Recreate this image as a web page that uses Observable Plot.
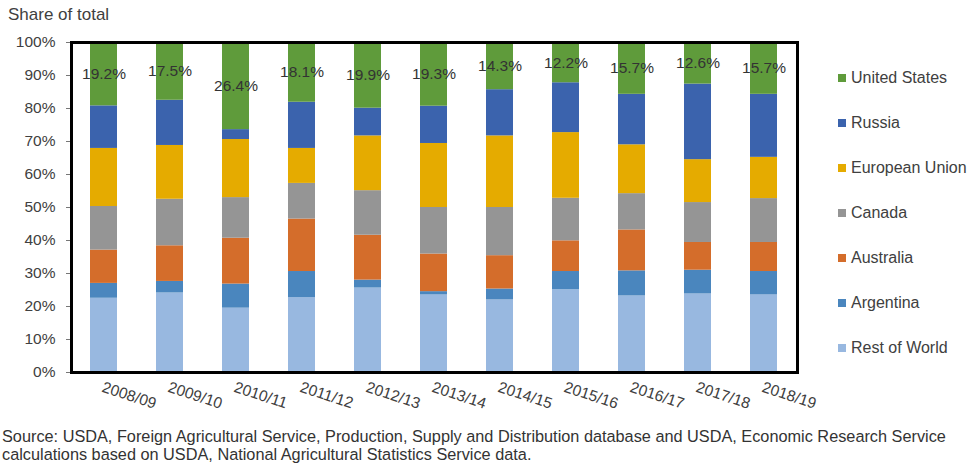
<!DOCTYPE html>
<html>
<head>
<meta charset="utf-8">
<script src="https://cdn.jsdelivr.net/npm/d3@7"></script>
<script src="https://cdn.jsdelivr.net/npm/@observablehq/plot@0.6"></script>
<style>
  html, body { margin: 0; padding: 0; background: #fff; }
  #wrap { position: relative; width: 973px; height: 465px; font-family: "Liberation Sans", Arial, sans-serif; color: #404040; overflow: hidden; }
  #wrap svg { position: absolute; left: 0; top: 0; }
  .title { position: absolute; left: 8px; top: 5px; font-size: 17px; color: #404040; white-space: nowrap; }
  .legend { position: absolute; left: 838px; top: 0; }
  .legend .item { position: absolute; left: 0; white-space: nowrap; font-size: 16px; color: #404040; line-height: 18px; }
  .legend .sw { display: inline-block; width: 8px; height: 8px; margin-right: 5px; vertical-align: 1px; }
  .caption { position: absolute; left: 2px; top: 427px; font-size: 16.3px; line-height: 18px; color: #333; white-space: nowrap; }
</style>
</head>
<body>
<div id="wrap"></div>
<script>
// ---- data ----
const seasons = ["2008/09","2009/10","2010/11","2011/12","2012/13","2013/14","2014/15","2015/16","2016/17","2017/18","2018/19"];
const countries = ["Rest of World","Argentina","Australia","Canada","European Union","Russia","United States"];
const colors = ["#98B8E0","#4A86BE","#D46D2B","#959595","#E5AB00","#3B63AD","#5F9B3B"];
const restOfWorld   = [22.5, 24.1, 19.5, 22.7, 25.6, 23.5, 22.0, 25.1, 23.2, 23.8, 23.5];
const argentina     = [ 4.5,  3.5,  7.3,  7.9,  2.4,  1.0,  3.3,  5.5,  7.6,  7.2,  7.1];
const australia     = [10.1, 10.8, 13.9, 15.9, 13.6, 11.4, 10.1,  9.3, 12.4,  8.4,  8.8];
const canada        = [13.2, 14.1, 12.3, 10.8, 13.5, 14.1, 14.6, 12.9, 11.0, 12.1, 13.3];
const europeanUnion = [17.6, 16.3, 17.6, 10.6, 16.6, 19.4, 21.7, 19.9, 14.8, 13.0, 12.5];
const russia        = [12.9, 13.7,  3.0, 14.0,  8.4, 11.3, 14.0, 15.1, 15.3, 22.9, 19.1];
const unitedStates  = [19.2, 17.5, 26.4, 18.1, 19.9, 19.3, 14.3, 12.2, 15.7, 12.6, 15.7];
const yTicks = [0,10,20,30,40,50,60,70,80,90,100];
const titleText = "Share of total";
const captionLines = [
  "Source: USDA, Foreign Agricultural Service, Production, Supply and Distribution database and USDA, Economic Research Service",
  "calculations based on USDA, National Agricultural Statistics Service data."
];

// ---- build table ----
const series = [restOfWorld, argentina, australia, canada, europeanUnion, russia, unitedStates];
const rows = [];
countries.forEach((c, ci) => seasons.forEach((s, si) => rows.push({season: s, country: c, value: series[ci][si]})));
const usRows = seasons.map((s, i) => ({season: s, us: unitedStates[i]}));

const chart = Plot.plot({
  width: 973,
  height: 465,
  marginTop: 42,
  marginBottom: 93,
  marginLeft: 71,
  marginRight: 176,
  style: {fontFamily: "'Liberation Sans', Arial, sans-serif", background: "transparent"},
  x: {type: "band", domain: seasons, paddingInner: 0.59, paddingOuter: 0.295, axis: null, label: null},
  y: {domain: [0, 100], axis: null, label: null},
  color: {domain: countries, range: colors},
  marks: [
    Plot.barY(rows, {x: "season", y: "value", fill: "country"}),
    Plot.text(usRows, {x: "season", y: d => 100 - d.us / 2, text: d => d.us.toFixed(1) + "%", fontSize: 15.5, fill: "#333"}),
    Plot.axisY({ticks: yTicks, tickFormat: d => d + "%", tickSize: 5, tickPadding: 11, fontSize: 15.5, stroke: "#777", fill: "#404040", label: null}),
    Plot.text(seasons, {x: d => d, frameAnchor: "bottom", dy: 19, dx: -3, rotate: 18, textAnchor: "start", fontSize: 15.5, fill: "#404040"}),
    Plot.frame({stroke: "black", strokeWidth: 3})
  ]
});

const wrap = document.getElementById("wrap");
wrap.appendChild(chart);

const t = document.createElement("div");
t.className = "title"; t.textContent = titleText; wrap.appendChild(t);

const lg = document.createElement("div");
lg.className = "legend";
const legendOrder = countries.slice().reverse();
legendOrder.forEach((c, i) => {
  const it = document.createElement("div");
  it.className = "item";
  it.style.top = (69 + i * 45) + "px";
  const sw = document.createElement("span");
  sw.className = "sw";
  sw.style.background = colors[countries.indexOf(c)];
  it.appendChild(sw);
  it.appendChild(document.createTextNode(c));
  lg.appendChild(it);
});
wrap.appendChild(lg);

const cap = document.createElement("div");
cap.className = "caption";
captionLines.forEach(l => { const d = document.createElement("div"); d.textContent = l; cap.appendChild(d); });
wrap.appendChild(cap);
</script>
</body>
</html>
